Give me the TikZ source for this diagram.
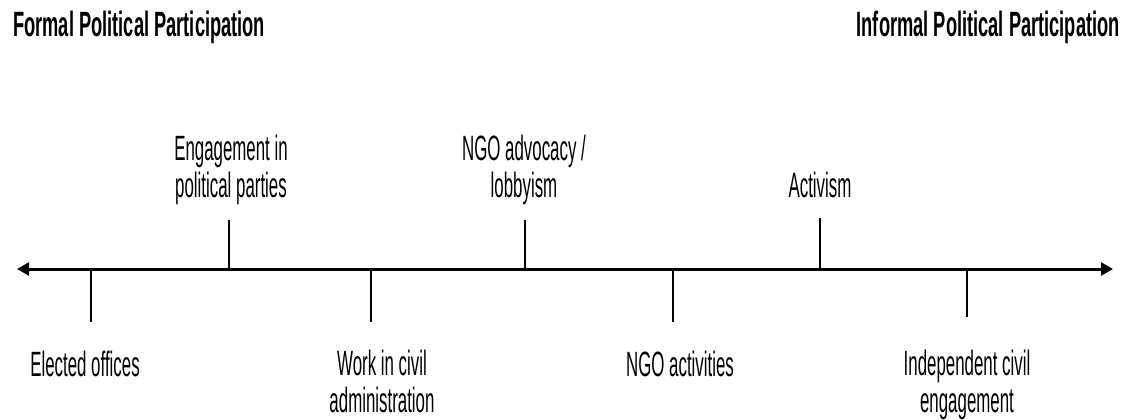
\documentclass[tikz,border=0pt]{standalone}
\usepackage{fontspec}
\setmainfont{Liberation Sans}[FakeStretch=0.48]
\newfontfamily\titlefont{Liberation Sans}[FakeStretch=0.52]
\usetikzlibrary{arrows.meta}
\begin{document}
\begin{tikzpicture}
   [x=0.25mm, y=-0.25mm,
   axisline/.style={{Triangle[length=3mm,width=3.2mm]}-{Triangle[length=3mm,width=3.2mm]},line width=0.75mm},
   tickline/.style={line width=0.5mm},
   label/.style={font=\fontsize{25}{26}\selectfont, align=center, anchor=base, inner sep=0pt},
   heading/.style={font=\titlefont\bfseries\fontsize{25}{27}\selectfont, anchor=base, inner sep=0pt}]
    \useasboundingbox (0, 0) rectangle (1131, 420);
    % headings
    \node[heading, anchor=base west] (formal) at (13, 37) {Formal Political Participation};
    \node[heading, anchor=base east] (informal) at (1120, 37) {Informal Political Participation};
    % axis
    \coordinate (left) at (17, 269);
    \coordinate (right) at (1113, 269);
    \draw[axisline] (left) -- (right);
    % labels below the axis (base = last line)
    \node[label] (elected) at (85, 376) {Elected offices};
    \node[label] (civiladmin) at (382, 412) {Work in civil\\administration};
    \node[label] (ngoact) at (680, 376) {NGO activities};
    \node[label] (indep) at (967, 412) {Independent civil\\engagement};
    % labels above the axis
    \node[label] (parties) at (231, 197) {Engagement in\\political parties};
    \node[label] (advocacy) at (524, 197) {NGO advocacy /\\lobbyism};
    \node[label] (activism) at (820, 197) {Activism};
    % ticks
    \foreach \name/\x/\y in {t1/91/322, t2/371/322, t3/673/322, t4/967/317, t5/229/220, t6/525/220, t7/820/218} {
        \coordinate (\name a) at (\x, 269);
        \coordinate (\name b) at (\x, \y);
        \draw[tickline] (\name a) -- (\name b);
    }
    \end{tikzpicture}
\end{document}
